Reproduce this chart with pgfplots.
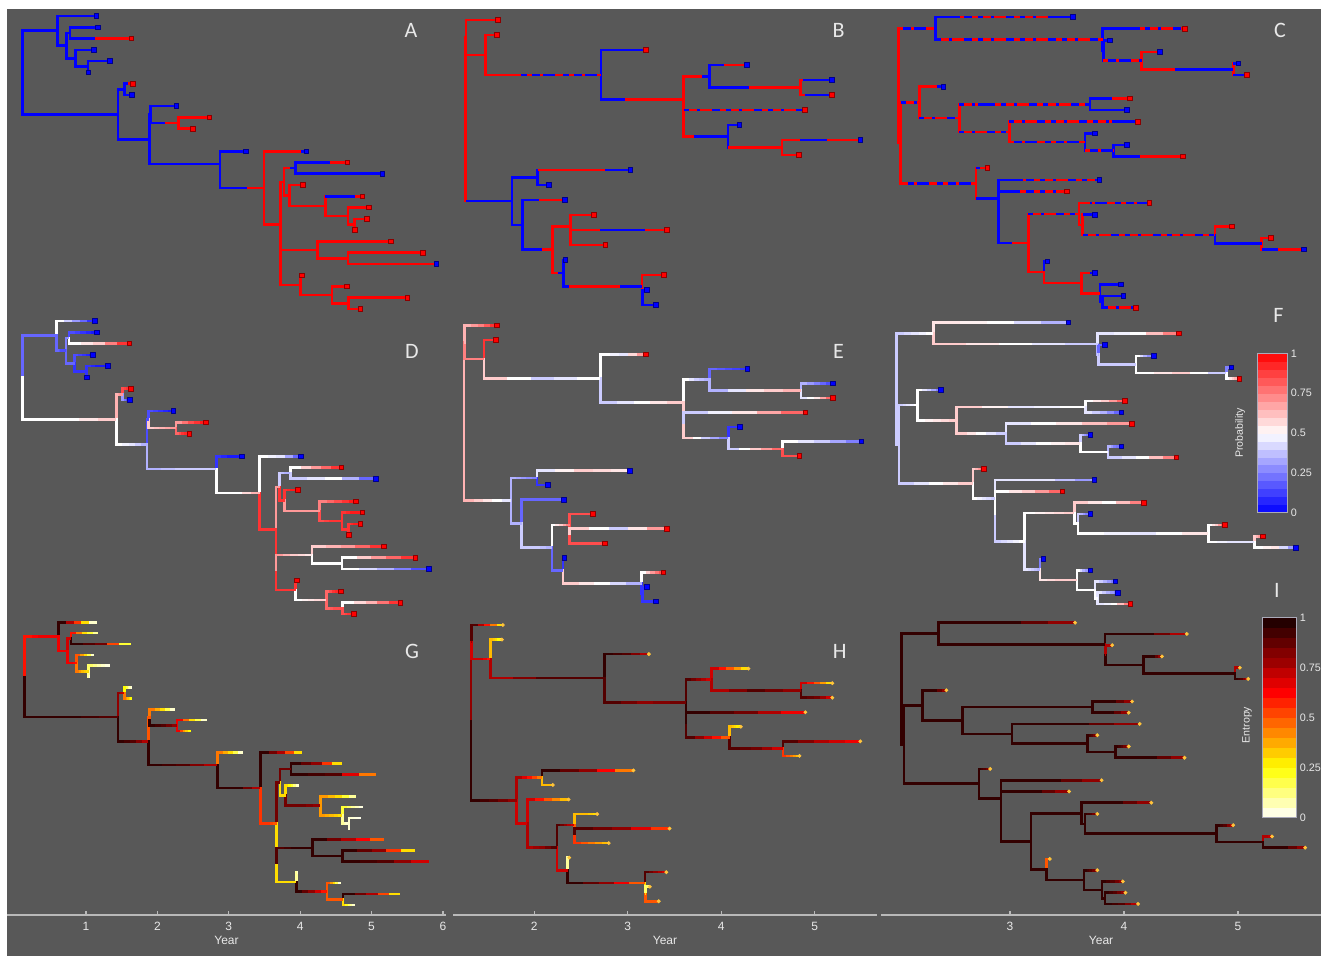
\documentclass[border=0pt]{standalone}
\usepackage{fontspec}
\setmainfont{Liberation Sans}
\newfontfamily\letterfont{Carlito}
\usepackage{pgfplots}
\usepackage{pgfplotstable}
\pgfplotsset{compat=1.18}

\definecolor{bg}{RGB}{88,88,88}
\definecolor{txt}{RGB}{232,232,232}
\definecolor{axisgray}{RGB}{185,185,185}
\definecolor{cbframe}{RGB}{170,170,185}
\definecolor{tipdot}{RGB}{255,196,60}

\pgfplotsset{
  colormap={prob}{rgb255=(0,0,255) rgb255=(255,255,255) rgb255=(255,0,0)},
  colormap={entropy}{rgb255(0cm)=(255,255,255) rgb255(2cm)=(255,255,0) rgb255(5cm)=(255,0,0) rgb255(8cm)=(20,0,0)},
  colorbar shift/.style={},
  branch/.style={line width=1.3pt},
  tree panel/.style={hide axis, scale only axis, clip=false, y dir=reverse, anchor=north west,
    point meta min=0, point meta max=1},
  year axis/.style={anchor=south west, scale only axis, y=1pt, ymin=0, ymax=1,
    axis x line=bottom, hide y axis, axis line style={-}, x axis line style={-, draw=axisgray, line width=0.75pt},
    tick align=inside, major tick length=2pt, xtick style={draw=axisgray, line width=0.6pt},
    xticklabel style={text=txt, font=\fontsize{6}{7}\selectfont},
    xlabel={Year}, xlabel style={text=txt, font=\fontsize{6}{7}\selectfont, yshift=4pt},
    /pgf/number format/assume math mode=true},
  cbar/.style={colorbar, colorbar sampled, colorbar style={scale only axis, samples=21,
    ytick={0,0.25,0.5,0.75,1}, major tick length=0pt,
    yticklabel style={text=txt, font=\fontsize{5.4}{6}\selectfont, xshift=-2pt},
    axis line style={draw=cbframe, line width=0.5pt},
    /pgf/number format/assume math mode=true, #1}},
}

% Tree tables: one row per branch (parent x0,y0 -> node x1,y1).
% va: state colour of the vertical connector; xm,xn split the branch into three
% state pieces pa,qa,ra; ov: colour of a dashed overlay (-1 = none);
% d1-d3: state probability along the branch; g1-g3: entropy along the branch;
% t: tip state (0 blue, 1 red, -1 internal node). y is the tip rank.
\pgfplotstableread{
id x0 y0 x1 y1 va xm xn pa qa ra ov d1 d2 d3 g1 g2 g3 t
P1 0.113 6.016 0.590 2.3125 0 0.590 0.590 0 0 0 -1 0.2 0.2 0.2 0.6 0.65 0.65 -1
P2 0.113 6.016 1.424 9.7197 0 1.424 1.424 0 0 0 -1 0.5 0.5 0.6 0.95 0.95 0.9 -1
t1 0.590 2.3125 1.126 1 0 1.126 1.126 0 0 0 -1 0.5 0.3 0.1 0.95 0.55 0.05 0
P3 0.590 2.3125 0.718 3.625 0 0.718 0.718 0 0 0 -1 0.2 0.15 0.15 0.65 0.65 0.65 -1
P4 0.718 3.625 0.764 2.5 0 0.764 0.764 0 0 0 -1 0.25 0.3 0.3 0.7 0.7 0.7 -1
t2 0.764 2.5 1.149 2 0 1.149 1.149 0 0 0 -1 0.15 0.1 0.05 0.6 0.3 0.1 0
t3 0.764 2.5 1.607 3 0 1.112 1.607 0 1 1 -1 0.5 0.6 0.9 0.95 0.85 0.2 1
P5 0.718 3.625 0.842 4.75 0 0.842 0.842 0 0 0 -1 0.2 0.2 0.2 0.65 0.65 0.6 -1
t4 0.842 4.75 1.094 4 0 1.094 1.094 0 0 0 -1 0.15 0.1 0.05 0.5 0.3 0.05 0
P6 0.842 4.75 1.011 5.5 0 1.011 1.011 0 0 0 -1 0.1 0.1 0.1 0.45 0.35 0.3 -1
t5 1.011 5.5 1.309 5 0 1.309 1.309 0 0 0 -1 0.1 0.05 0.05 0.15 0.08 0.03 0
t6 1.011 5.5 1.016 6 0 1.016 1.016 0 0 0 -1 0.1 0.1 0.1 0.1 0.05 0.03 0
P7 1.424 9.7197 1.515 7.5 0 1.515 1.515 0 0 0 -1 0.65 0.7 0.7 0.8 0.75 0.7 -1
t7 1.515 7.5 1.630 7 0 1.561 1.630 0 1 1 -1 0.85 0.9 0.95 0.25 0.1 0.03 1
t8 1.515 7.5 1.616 8 0 1.616 1.616 0 0 0 -1 0.3 0.15 0.1 0.45 0.35 0.25 0
P8 1.424 9.7197 1.855 11.9395 0 1.855 1.855 0 0 0 -1 0.5 0.45 0.35 0.95 0.9 0.75 -1
P9 1.855 11.9395 1.873 9.75 0 1.873 1.873 0 0 0 -1 0.15 0.15 0.15 0.5 0.5 0.5 -1
t9 1.873 9.75 2.226 9 0 2.226 2.226 0 0 0 -1 0.15 0.1 0.05 0.45 0.3 0.05 0
P11 1.873 9.75 2.258 10.5 0 2.065 2.258 0 1 1 -1 0.6 0.65 0.7 0.95 0.9 0.8 -1
t10 2.258 10.5 2.679 10 1 2.679 2.679 1 1 1 -1 0.7 0.85 0.95 0.65 0.3 0.05 1
t11 2.258 10.5 2.450 11 1 2.450 2.450 1 1 1 -1 0.8 0.9 0.95 0.65 0.4 0.25 1
P10 1.855 11.9395 2.826 14.1289 0 2.826 2.826 0 0 0 -1 0.35 0.4 0.4 0.95 0.9 0.75 -1
t12 2.826 14.1289 3.184 13 0 3.184 3.184 0 0 0 -1 0.1 0.05 0.05 0.45 0.3 0.05 0
P12 2.826 14.1289 3.431 16.2578 0 3.202 3.431 0 1 1 -1 0.5 0.5 0.65 0.95 0.95 0.75 -1
t13 3.431 16.2578 4.013 13 1 3.944 4.013 1 0 0 -1 0.5 0.45 0.2 0.95 0.75 0.3 0
P13 3.431 16.2578 3.660 19.5156 1 3.660 3.660 1 1 1 -1 0.9 0.9 0.9 0.55 0.55 0.5 -1
Q 3.660 19.5156 3.706 15.7188 1 3.706 3.706 1 1 1 -1 0.7 0.7 0.7 0.85 0.85 0.85 -1
Q1 3.706 15.7188 3.862 14.5 1 3.784 3.862 1 0 0 -1 0.4 0.35 0.35 0.85 0.85 0.85 -1
t14 3.862 14.5 4.577 14 0 4.334 4.577 0 1 1 -1 0.5 0.7 0.9 0.95 0.8 0.3 1
t15 3.862 14.5 5.058 15 0 5.058 5.058 0 0 0 -1 0.4 0.5 0.2 0.95 0.9 0.45 0
Q2 3.706 15.7188 3.784 16.9375 1 3.784 3.784 1 1 1 -1 0.9 0.9 0.9 0.3 0.3 0.3 -1
t16 3.784 16.9375 3.967 16 1 3.967 3.967 1 1 1 -1 0.9 0.95 0.95 0.3 0.2 0.05 1
S 3.784 16.9375 4.274 17.875 1 4.274 4.274 1 1 1 -1 0.7 0.7 0.7 0.85 0.85 0.8 -1
t17 4.274 17.875 4.783 17 1 4.678 4.783 0 1 1 -1 0.75 0.85 0.95 0.4 0.3 0.1 1
T 4.274 17.875 4.586 18.75 1 4.586 4.586 1 1 1 -1 0.85 0.9 0.9 0.4 0.35 0.3 -1
t18 4.586 18.75 4.870 18 1 4.870 4.870 1 1 1 -1 0.9 0.95 0.95 0.2 0.1 0.03 1
U 4.586 18.75 4.678 19.5 1 4.678 4.678 1 1 1 -1 0.9 0.9 0.9 0.1 0.05 0.05 -1
t19 4.678 19.5 4.843 19 1 4.843 4.843 1 1 1 -1 0.9 0.95 0.95 0.05 0.03 0.02 1
t20 4.678 19.5 4.683 20 1 4.683 4.683 1 1 1 -1 0.9 0.9 0.9 0.05 0.03 0.03 1
R 3.660 19.5156 3.660 23.3125 1 3.660 3.660 1 1 1 -1 0.9 0.9 0.9 0.3 0.3 0.3 -1
V 3.660 23.3125 4.164 21.75 1 4.164 4.164 1 1 1 -1 0.7 0.6 0.55 0.9 0.95 0.95 -1
t21 4.164 21.75 5.173 21 1 5.173 5.173 1 1 1 -1 0.6 0.7 0.9 0.95 0.75 0.5 1
X 4.164 21.75 4.586 22.5 1 4.586 4.586 1 1 1 -1 0.5 0.5 0.5 0.95 0.95 0.95 -1
t22 4.586 22.5 5.613 22 1 5.613 5.613 1 1 1 -1 0.5 0.7 0.9 0.95 0.8 0.3 1
t23 4.586 22.5 5.800 23 1 5.800 5.800 1 1 1 -1 0.5 0.35 0.15 0.95 0.9 0.7 0
W 3.660 23.3125 3.935 24.875 1 3.935 3.935 1 1 1 -1 0.9 0.9 0.9 0.3 0.3 0.3 -1
t24 3.935 24.875 3.954 24 1 3.954 3.954 1 1 1 -1 0.9 0.9 0.9 0.1 0.05 0.05 1
Y 3.935 24.875 4.366 25.75 1 4.366 4.366 1 1 1 -1 0.5 0.55 0.6 0.95 0.8 0.6 -1
t25 4.366 25.75 4.568 25 1 4.568 4.568 1 1 1 -1 0.8 0.9 0.95 0.5 0.3 0.05 1
Z 4.366 25.75 4.595 26.5 1 4.595 4.595 1 1 1 -1 0.8 0.85 0.85 0.5 0.5 0.5 -1
t26 4.595 26.5 5.402 26 1 5.402 5.402 1 1 1 -1 0.5 0.65 0.9 0.95 0.75 0.3 1
t27 4.595 26.5 4.756 27 1 4.756 4.756 1 1 1 -1 0.85 0.9 0.95 0.3 0.15 0.05 1
}\colOne

\pgfplotstableread{
id x0 y0 x1 y1 va xm xn pa qa ra ov d1 d2 d3 g1 g2 g3 t
N1 1.265 7.621 1.270 2.164 1 1.270 1.270 1 1 1 -1 0.65 0.65 0.65 0.8 0.8 0.8 -1
N2 1.265 7.621 1.762 13.078 1 1.762 1.762 0 0 0 -1 0.65 0.55 0.45 0.95 0.9 0.8 -1
t1 1.270 2.164 1.612 1 1 1.612 1.612 1 1 1 -1 0.65 0.75 0.9 0.9 0.6 0.3 1
N3 1.270 2.164 1.477 3.328 1 1.477 1.477 1 1 1 -1 0.75 0.75 0.75 0.7 0.7 0.6 -1
t2 1.477 3.328 1.602 2 1 1.602 1.602 1 1 1 -1 0.9 0.9 0.9 0.35 0.3 0.2 1
N4 1.477 3.328 2.714 4.656 1 1.805 2.714 1 0 0 1 0.6 0.4 0.5 0.75 0.9 0.9 -1
t3 2.714 4.656 3.195 3 0 3.195 3.195 0 0 0 -1 0.5 0.45 0.7 0.95 0.9 0.75 1
N5 2.714 4.656 3.598 6.3125 0 2.974 3.598 0 1 1 -1 0.4 0.5 0.6 0.9 0.8 0.85 -1
N6 3.598 6.3125 3.873 4.75 1 3.794 3.873 1 0 0 -1 0.5 0.4 0.35 0.9 0.8 0.7 -1
t4 3.873 4.75 4.275 4 0 4.026 4.275 0 1 1 -1 0.2 0.15 0.1 0.7 0.5 0.3 0
N9 3.873 4.75 4.846 5.5 0 4.293 4.846 0 1 1 -1 0.35 0.55 0.65 0.75 0.9 0.8 -1
t5 4.846 5.5 5.184 5 1 4.871 5.184 1 0 0 -1 0.35 0.25 0.15 0.7 0.5 0.3 0
t6 4.846 5.5 5.184 6 1 4.892 5.184 1 0 0 -1 0.45 0.55 0.8 0.9 0.85 0.7 1
M 3.598 6.3125 3.598 7.875 1 3.598 3.598 1 1 1 -1 0.6 0.6 0.6 0.95 0.95 0.95 -1
t7 3.598 7.875 4.892 7 1 4.892 4.892 1 1 1 0 0.4 0.55 0.8 0.95 0.85 0.65 1
N10 3.598 7.875 4.072 8.75 1 3.705 4.072 1 0 0 -1 0.6 0.4 0.25 0.9 0.7 0.5 -1
t8 4.072 8.75 4.193 8 0 4.193 4.193 0 0 0 -1 0.1 0.1 0.1 0.35 0.3 0.25 0
N11 4.072 8.75 4.650 9.5 0 4.650 4.650 1 1 1 -1 0.4 0.6 0.8 0.9 0.85 0.7 -1
t9 4.650 9.5 5.488 9 1 4.846 5.131 1 0 1 -1 0.5 0.4 0.25 0.9 0.75 0.65 0
t10 4.650 9.5 4.828 10 1 4.828 4.828 1 1 1 -1 0.85 0.85 0.85 0.55 0.45 0.35 1
N12 1.762 13.078 2.037 11.5 0 2.037 2.037 0 0 0 -1 0.35 0.3 0.25 0.75 0.6 0.45 -1
t11 2.037 11.5 3.028 11 0 2.760 3.028 1 0 0 -1 0.45 0.6 0.55 0.95 0.8 0.45 0
t12 2.037 11.5 2.154 12 0 2.154 2.154 0 0 0 -1 0.1 0.1 0.1 0.35 0.35 0.35 0
N13 1.762 13.078 1.876 14.656 0 1.876 1.876 0 0 0 -1 0.35 0.35 0.35 0.7 0.7 0.7 -1
t13 1.876 14.656 2.325 13 0 2.054 2.325 0 1 1 -1 0.2 0.2 0.2 0.7 0.5 0.35 0
N14 1.876 14.656 2.197 16.3125 0 2.083 2.197 0 1 1 -1 0.4 0.4 0.35 0.75 0.8 0.9 -1
N15 2.197 16.3125 2.386 14.75 1 2.386 2.386 1 1 1 -1 0.5 0.6 0.75 0.9 0.8 0.7 -1
t14 2.386 14.75 2.635 14 1 2.635 2.635 1 1 1 -1 0.85 0.85 0.85 0.35 0.35 0.3 1
L 2.386 14.75 2.386 15.5 1 2.386 2.386 1 1 1 -1 0.85 0.85 0.85 0.5 0.5 0.5 -1
t15 2.386 15.5 3.420 15 1 2.707 3.188 1 0 1 -1 0.6 0.4 0.7 0.9 0.8 0.55 1
t16 2.386 15.5 2.760 16 1 2.760 2.760 1 1 1 -1 0.85 0.85 0.85 0.55 0.45 0.35 1
N16 2.197 16.3125 2.315 17.875 1 2.254 2.315 1 0 0 -1 0.2 0.2 0.2 0.7 0.7 0.7 -1
t17 2.315 17.875 2.332 17 0 2.332 2.332 0 0 0 -1 0.1 0.1 0.1 0.1 0.1 0.1 0
N17 2.315 17.875 3.152 18.75 0 2.375 2.921 0 1 0 -1 0.6 0.5 0.35 0.95 0.8 0.5 -1
t18 3.152 18.75 3.384 18 1 3.384 3.384 1 1 1 -1 0.5 0.7 0.85 0.9 0.8 0.7 1
N18 3.152 18.75 3.159 19.5 1 3.159 3.159 0 0 0 -1 0.1 0.1 0.1 0.3 0.3 0.3 -1
t19 3.159 19.5 3.206 19 0 3.206 3.206 0 0 0 -1 0.1 0.1 0.1 0.15 0.15 0.15 0
t20 3.159 19.5 3.302 20 0 3.302 3.302 0 0 0 -1 0.1 0.1 0.1 0.5 0.5 0.5 0
}\colTwo

\pgfplotstableread{
id x0 y0 x1 y1 va xm xn pa qa ra ov d1 d2 d3 g1 g2 g3 t
N1 2.020 6.896 2.348 1.969 1 2.348 2.348 0 0 0 1 0.4 0.45 0.5 0.95 0.95 0.95 -1
Nb 2.020 6.896 2.041 11.824 1 2.041 2.041 1 1 1 -1 0.4 0.4 0.4 0.95 0.95 0.95 -1
t1 2.348 1.969 3.550 1 0 2.561 3.380 0 1 0 0 0.55 0.5 0.35 0.95 0.95 0.8 0
N2 2.348 1.969 3.813 2.9375 0 3.813 3.813 1 1 1 0 0.6 0.5 0.4 0.95 0.95 0.95 -1
t2 3.813 2.9375 4.535 2 0 4.140 4.418 0 1 1 0 0.45 0.5 0.75 0.95 0.95 0.75 1
K 3.813 2.9375 3.819 3.875 0 3.819 3.819 0 0 0 -1 0.35 0.35 0.35 0.75 0.75 0.75 -1
t3 3.819 3.875 3.877 3 0 3.877 3.877 0 0 0 -1 0.2 0.2 0.2 0.75 0.75 0.75 0
N5 3.819 3.875 4.155 4.75 0 4.155 4.155 0 0 0 1 0.4 0.4 0.4 0.95 0.95 0.95 -1
t4 4.155 4.75 4.316 4 1 4.316 4.316 1 1 1 -1 0.5 0.35 0.2 0.95 0.95 0.8 0
N6 4.155 4.75 4.959 5.5 1 4.447 4.959 1 0 0 -1 0.5 0.6 0.4 0.95 0.95 0.95 -1
t5 4.959 5.5 5.003 5 1 5.003 5.003 0 0 0 -1 0.25 0.25 0.25 0.75 0.75 0.75 0
t6 4.959 5.5 5.076 6 1 5.076 5.076 0 0 0 -1 0.5 0.6 0.7 0.95 0.9 0.75 1
N3 2.041 11.824 2.205 8.344 1 2.205 2.205 1 1 1 0 0.4 0.45 0.5 0.95 0.95 0.95 -1
t7 2.205 8.344 2.415 7 1 2.357 2.415 1 0 0 -1 0.5 0.4 0.25 0.95 0.95 0.8 0
N7 2.205 8.344 2.556 9.6875 1 2.556 2.556 1 1 1 0 0.5 0.55 0.6 0.95 0.95 0.95 -1
N8 2.556 9.6875 3.702 8.5 1 2.722 2.868 1 0 1 0 0.6 0.45 0.5 0.95 0.95 0.95 -1
t8 3.702 8.5 4.053 8 0 3.892 4.053 0 1 1 -1 0.5 0.6 0.8 0.95 0.95 0.8 1
t9 3.702 8.5 4.023 9 0 4.023 4.023 0 0 0 -1 0.45 0.35 0.2 0.95 0.95 0.8 0
N9 2.556 9.6875 2.994 10.875 1 2.994 2.994 1 1 1 0 0.6 0.5 0.4 0.95 0.95 0.95 -1
t10 2.994 10.875 4.120 10 1 3.892 4.120 1 0 0 0 0.45 0.55 0.7 0.95 0.95 0.8 1
N10 2.994 10.875 3.658 11.75 1 3.658 3.658 0 0 0 1 0.4 0.5 0.55 0.95 0.95 0.95 -1
t11 3.658 11.75 3.746 11 0 3.746 3.746 0 0 0 -1 0.4 0.3 0.2 0.95 0.9 0.8 0
N11 3.658 11.75 3.906 12.5 0 3.906 3.906 0 0 0 1 0.5 0.5 0.5 0.95 0.95 0.95 -1
t12 3.906 12.5 4.023 12 0 4.023 4.023 0 0 0 -1 0.35 0.25 0.2 0.95 0.9 0.8 0
t13 3.906 12.5 4.515 13 0 4.140 4.515 0 1 1 -1 0.4 0.5 0.75 0.95 0.95 0.8 1
N4 2.041 11.824 2.702 15.305 1 2.108 2.702 1 0 0 1 0.4 0.5 0.6 0.95 0.95 0.95 -1
t14 2.702 15.305 2.801 14 1 2.737 2.801 0 1 1 -1 0.6 0.7 0.85 0.95 0.9 0.8 1
N12 2.702 15.305 2.898 16.609 1 2.898 2.898 0 0 0 -1 0.5 0.45 0.4 0.95 0.95 0.95 -1
t15 2.898 16.609 3.784 15 0 3.117 3.784 0 1 1 0 0.45 0.45 0.3 0.95 0.95 0.8 0
J 2.898 16.609 2.898 18.219 0 2.898 2.898 0 0 0 -1 0.35 0.35 0.35 0.9 0.9 0.9 -1
t16 2.898 18.219 3.497 16 0 3.088 3.497 0 1 1 0 0.5 0.6 0.8 0.95 0.95 0.8 1
N14 2.898 18.219 3.161 20.4375 0 3.015 3.161 0 1 1 -1 0.4 0.45 0.5 0.95 0.95 0.95 -1
N15 3.161 20.4375 3.605 17.9375 1 3.605 3.605 1 1 1 0 0.5 0.55 0.6 0.95 0.95 0.95 -1
t17 3.605 17.9375 4.222 17 1 3.702 4.222 1 0 0 1 0.6 0.5 0.75 0.95 0.95 0.8 1
N17 3.605 17.9375 3.637 18.875 1 3.637 3.637 1 1 1 -1 0.5 0.5 0.5 0.95 0.95 0.95 -1
t18 3.637 18.875 3.746 18 1 3.746 3.746 0 0 0 -1 0.4 0.3 0.2 0.95 0.9 0.8 0
N18 3.637 18.875 4.798 19.75 1 4.798 4.798 1 1 1 0 0.5 0.45 0.55 0.95 0.95 0.95 -1
t19 4.798 19.75 4.944 19 1 4.944 4.944 1 1 1 -1 0.5 0.6 0.8 0.95 0.9 0.75 1
N19 4.798 19.75 5.208 20.5 0 5.208 5.208 0 0 0 -1 0.5 0.45 0.45 0.95 0.95 0.95 -1
t20 5.208 20.5 5.287 20 1 5.287 5.287 1 1 1 -1 0.6 0.7 0.85 0.75 0.75 0.7 1
t21 5.208 20.5 5.579 21 1 5.354 5.579 0 1 1 -1 0.5 0.55 0.3 0.95 0.95 0.8 0
N16 3.161 20.4375 3.298 22.9375 1 3.298 3.298 1 1 1 -1 0.45 0.4 0.35 0.95 0.95 0.95 -1
t22 3.298 22.9375 3.327 22 0 3.327 3.327 0 0 0 -1 0.25 0.2 0.15 0.5 0.5 0.5 0
N20 3.298 22.9375 3.629 23.875 1 3.629 3.629 1 1 1 -1 0.55 0.6 0.6 0.95 0.95 0.95 -1
t23 3.629 23.875 3.746 23 1 3.700 3.746 1 0 0 -1 0.5 0.35 0.25 0.95 0.9 0.8 0
N21 3.629 23.875 3.789 24.75 1 3.789 3.789 1 1 1 -1 0.5 0.5 0.5 0.95 0.95 0.95 -1
t24 3.789 24.75 3.971 24 0 3.971 3.971 0 0 0 -1 0.45 0.35 0.25 0.95 0.9 0.8 0
N22 3.789 24.75 3.813 25.5 0 3.813 3.813 0 0 0 -1 0.5 0.5 0.5 0.95 0.95 0.95 -1
t25 3.813 25.5 3.994 25 0 3.994 3.994 0 0 0 -1 0.45 0.35 0.25 0.95 0.9 0.8 0
t26 3.813 25.5 4.105 26 0 4.105 4.105 1 1 1 0 0.45 0.5 0.75 0.95 0.9 0.75 1
}\colThree

% discrete ancestral states: connector, up to three state pieces, dashed changes
\newcommand\stateTree[1]{%
  \addplot[branch, line cap=rect, quiver={u=0, v={\thisrow{y1}-\thisrow{y0}}, colored}, point meta=\thisrow{va}] table[x=x0, y=y0] {#1};
  \addplot[branch, quiver={u={\thisrow{xm}-\thisrow{x0}}, v=0, colored}, point meta=\thisrow{pa}] table[x=x0, y=y1] {#1};
  \addplot[branch, quiver={u={\thisrow{xn}-\thisrow{xm}}, v=0, colored}, point meta=\thisrow{qa}] table[x=xm, y=y1] {#1};
  \addplot[branch, quiver={u={\thisrow{x1}-\thisrow{xn}}, v=0, colored}, point meta=\thisrow{ra}] table[x=xn, y=y1] {#1};
  \addplot[branch, dash pattern=on 2.5pt off 4pt on 1.5pt off 6pt on 4pt off 3pt,
    quiver={u={(\thisrow{ov}>-0.5)*(\thisrow{x1}-\thisrow{x0})}, v=0, colored},
    point meta={max(\thisrow{ov},0)}] table[x=x0, y=y1] {#1};
}
% continuous value along each branch (#2,#3,#4 = start, middle, end columns)
\newcommand\shadeTree[4]{%
  \addplot[branch, line cap=rect, quiver={u=0, v={\thisrow{y1}-\thisrow{y0}}, colored}, point meta=\thisrow{#2}] table[x=x0, y=y0] {#1};
  \addplot[branch, quiver={u={(\thisrow{x1}-\thisrow{x0})/5}, v=0, colored}, point meta=\thisrow{#2}] table[x=x0, y=y1] {#1};
  \addplot[branch, quiver={u={(\thisrow{x1}-\thisrow{x0})/5}, v=0, colored}, point meta={(\thisrow{#2}+\thisrow{#3})/2}] table[x expr={\thisrow{x0}+(\thisrow{x1}-\thisrow{x0})/5}, y=y1] {#1};
  \addplot[branch, quiver={u={(\thisrow{x1}-\thisrow{x0})/5}, v=0, colored}, point meta=\thisrow{#3}] table[x expr={\thisrow{x0}+2*(\thisrow{x1}-\thisrow{x0})/5}, y=y1] {#1};
  \addplot[branch, quiver={u={(\thisrow{x1}-\thisrow{x0})/5}, v=0, colored}, point meta={(\thisrow{#3}+\thisrow{#4})/2}] table[x expr={\thisrow{x0}+3*(\thisrow{x1}-\thisrow{x0})/5}, y=y1] {#1};
  \addplot[branch, quiver={u={(\thisrow{x1}-\thisrow{x0})/5}, v=0, colored}, point meta=\thisrow{#4}] table[x expr={\thisrow{x0}+4*(\thisrow{x1}-\thisrow{x0})/5}, y=y1] {#1};
}
\newcommand\tipMarks[1]{%
  \addplot[only marks, scatter, mark=square*, mark size=1.15pt,
    scatter/use mapped color={draw=mapped color!55!black, fill=mapped color},
    restrict expr to domain={\thisrow{t}}{-0.5:1.5}, point meta=\thisrow{t}] table[x=x1, y=y1] {#1};
}
\newcommand\tipDots[1]{%
  \addplot[only marks, mark=*, mark size=0.75pt, color=tipdot,
    restrict expr to domain={\thisrow{t}}{-0.5:1.5}] table[x=x1, y=y1] {#1};
}

\begin{document}
\begin{tikzpicture}
\fill[white] (0pt,0pt) rectangle (660.5pt,-478pt);
\fill[bg] (3.5pt,-4.5pt) rectangle (660.5pt,-478pt);
\coordinate (cbF) at (628.65pt,-176.65pt);
\coordinate (cbI) at (631.15pt,-308.65pt);

% ---- column 1 ----
\begin{axis}[tree panel, colormap name=prob, x=36.365pt, y=5.635pt, xmin=0, xmax=6, ymin=0, ymax=28, at={(7.225pt,-2.365pt)}]
\stateTree{\colOne}
\tipMarks{\colOne}
\end{axis}
\begin{axis}[tree panel, colormap name=prob, x=35.7pt, y=5.635pt, xmin=0, xmax=6, ymin=0, ymax=28, at={(7.3pt,-154.865pt)}]
\shadeTree{\colOne}{d1}{d2}{d3}
\tipMarks{\colOne}
\end{axis}
\begin{axis}[tree panel, colormap name=entropy, x=35.52pt, y=5.435pt, xmin=0, xmax=6, ymin=0, ymax=28, at={(8.35pt,-305.715pt)}]
\shadeTree{\colOne}{g1}{g2}{g3}
\end{axis}

% ---- column 2 ----
\begin{axis}[tree panel, colormap name=prob, x=46.75pt, y=7.5pt, xmin=1, xmax=6, ymin=0, ymax=21, at={(220.375pt,-2.5pt)}]
\stateTree{\colTwo}
\tipMarks{\colTwo}
\end{axis}
\begin{axis}[tree panel, colormap name=prob, x=47.03pt, y=7.265pt, xmin=1, xmax=6, ymin=0, ymax=21, at={(219.63pt,-155.385pt)}]
\shadeTree{\colTwo}{d1}{d2}{d3}
\tipMarks{\colTwo}
\end{axis}
\begin{axis}[tree panel, colormap name=entropy, x=46.11pt, y=7.27pt, xmin=1, xmax=6, ymin=0, ymax=21, at={(223.21pt,-305.23pt)}]
\shadeTree{\colTwo}{g1}{g2}{g3}
\tipDots{\colTwo}
\end{axis}

% ---- column 3 ----
\begin{axis}[tree panel, colormap name=prob, x=57pt, y=5.815pt, xmin=2, xmax=6, ymin=0, ymax=27, at={(448pt,-2.685pt)}]
\stateTree{\colThree}
\tipMarks{\colThree}
\end{axis}
\begin{axis}[tree panel, colormap name=prob, x=56.1pt, y=5.635pt, xmin=2, xmax=6, ymin=0, ymax=27, at={(447.15pt,-155.515pt)},
  cbar={at={(cbF)}, anchor=north west, width=15.2pt, height=79.7pt}]
\shadeTree{\colThree}{d1}{d2}{d3}
\tipMarks{\colThree}
\end{axis}
\begin{axis}[tree panel, colormap name=entropy, x=56.7pt, y=5.625pt, xmin=2, xmax=6, ymin=0, ymax=27, at={(449.65pt,-305.725pt)},
  cbar={at={(cbI)}, anchor=north west, width=17.2pt, height=100pt}]
\shadeTree{\colThree}{g1}{g2}{g3}
\tipDots{\colThree}
\end{axis}

% ---- time axes ----
\begin{axis}[year axis, x=35.7pt, xmin=-0.106, xmax=6.042, xtick={1,2,3,4,5,6}, at={(3.5pt,-457.5pt)}]
\addplot[draw=none] coordinates {(1,0.5)};
\end{axis}
\begin{axis}[year axis, x=46.75pt, xmin=1.131, xmax=5.666, xtick={2,3,4,5}, at={(226.5pt,-457.5pt)}]
\addplot[draw=none] coordinates {(2,0.5)};
\end{axis}
\begin{axis}[year axis, x=57pt, xmin=1.868, xmax=5.728, xtick={3,4,5}, at={(440.5pt,-457.5pt)}]
\addplot[draw=none] coordinates {(3,0.5)};
\end{axis}

% ---- panel letters and colour bar titles ----
\begin{scope}[every node/.style={text=txt, font=\letterfont\fontsize{11}{13}\selectfont}]
\node at (205.5pt,-15pt) {A};
\node at (419.3pt,-15.4pt) {B};
\node at (640pt,-15.4pt) {C};
\node at (206pt,-175.6pt) {D};
\node at (419.3pt,-175.6pt) {E};
\node at (639.2pt,-157.6pt) {F};
\node at (206pt,-325.8pt) {G};
\node at (419.8pt,-325.8pt) {H};
\node at (638.4pt,-295.2pt) {I};
\end{scope}
\node[rotate=90, text=txt, font=\fontsize{5.3}{6}\selectfont] at (620pt,-216.5pt) {Probability};
\node[rotate=90, text=txt, font=\fontsize{5.3}{6}\selectfont] at (623.5pt,-362.5pt) {Entropy};

\pgfresetboundingbox
\path[use as bounding box] (0pt,0pt) rectangle (660.5pt,-478pt);
\end{tikzpicture}
\end{document}
